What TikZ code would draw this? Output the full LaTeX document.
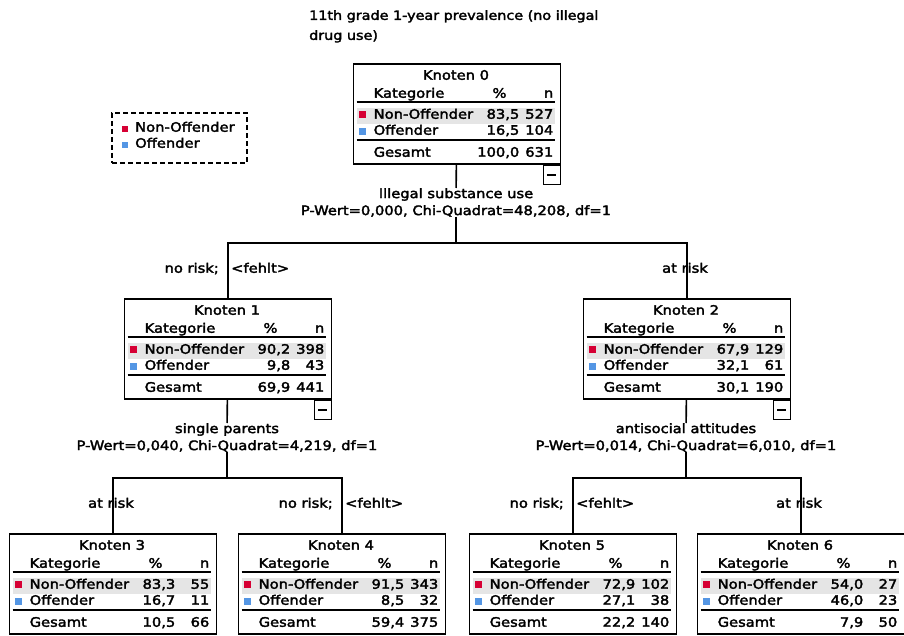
\documentclass[tikz,border=0pt]{standalone}
\usepackage{fontspec}
\setmainfont{DejaVu Sans}[FakeStretch=1.13, FakeBold=2.5]
\usetikzlibrary{positioning}

\definecolor{offred}{RGB}{214,0,52}
\definecolor{offblue}{RGB}{84,150,228}
\definecolor{rowgray}{RGB}{229,229,229}

\tikzset{
  kasten/.style={draw, line width=1.6pt, minimum width=207pt, minimum height=100pt, inner sep=0pt},
  minusbox/.style={draw, line width=1.6pt, minimum width=17pt, minimum height=19pt, inner sep=0pt},
  legende/.style={draw, dash pattern=on 5pt off 3pt, line width=1.6pt, minimum width=135pt, minimum height=50pt, inner sep=0pt},
  linie/.style={line width=1.6pt},
  split/.style={anchor=north, align=center, font=\fontsize{13}{17}\selectfont},
}

% 表格节点: #1 编号, #2 中心x, #3 上边y, #4-#9 数值
\newcommand{\knoten}[9]{%
  \begin{scope}[shift={(#2-103.5,#3)}]
    \fill[rowgray] (4,45) rectangle (202,61);
    \node[kasten, anchor=north west] (k#1) at (0,0) {};
    \node[anchor=mid] (k#1-titel) at (103.5,14) {Knoten #1};
    \node[anchor=mid west] (k#1-kat) at (21,32) {Kategorie};
    \node[anchor=mid] (k#1-proz) at (147,32) {\%};
    \node[anchor=mid east] (k#1-n) at (201,32) {n};
    \draw[linie] (4,39) -- (202,39);
    \fill[offred] (6,48) rectangle (13,55);
    \node[anchor=mid west] (k#1-a) at (21,53) {Non-Offender};
    \node[anchor=mid east] (k#1-ap) at (167,53) {#4};
    \node[anchor=mid east] (k#1-an) at (201,53) {#5};
    \fill[offblue] (6,65) rectangle (13,72);
    \node[anchor=mid west] (k#1-b) at (21,69) {Offender};
    \node[anchor=mid east] (k#1-bp) at (167,69) {#6};
    \node[anchor=mid east] (k#1-bn) at (201,69) {#7};
    \draw[linie] (4,77) -- (202,77);
    \node[anchor=mid west] (k#1-g) at (21,91) {Gesamt};
    \node[anchor=mid east] (k#1-gp) at (167,91) {#8};
    \node[anchor=mid east] (k#1-gn) at (201,91) {#9};
  \end{scope}}

\begin{document}
\begin{tikzpicture}[x=1pt, y=-1pt, every node/.append style={inner sep=0pt, font=\fontsize{13}{15}\selectfont}]
  \useasboundingbox (0,0) rectangle (904,636);

  % 标题
  \node[anchor=north west, align=left, font=\fontsize{12.7}{20}\selectfont] (titel) at (309,10) {11th grade 1-year prevalence (no illegal\\drug use)};

  % 图例
  \node[legende] (leg) at (179.5,138) {};
  \fill[offred] (122,126) rectangle (128,132);
  \node[anchor=mid west] (leg-a) at (135,129) {Non-Offender};
  \fill[offblue] (122,142) rectangle (128,148);
  \node[anchor=mid west] (leg-b) at (135,145) {Offender};

  % 节点
  \knoten{0}{456}{63}{83,5}{527}{16,5}{104}{100,0}{631}
  \knoten{1}{227}{298}{90,2}{398}{9,8}{43}{69,9}{441}
  \knoten{2}{686}{298}{67,9}{129}{32,1}{61}{30,1}{190}
  \knoten{3}{112}{533}{83,3}{55}{16,7}{11}{10,5}{66}
  \knoten{4}{341}{533}{91,5}{343}{8,5}{32}{59,4}{375}
  \knoten{5}{572}{533}{72,9}{102}{27,1}{38}{22,2}{140}
  \knoten{6}{800}{533}{54,0}{27}{46,0}{23}{7,9}{50}

  \node[minusbox, anchor=north east] (m0) at (k0.south east) {\rule{9pt}{1.6pt}};
  \node[minusbox, anchor=north east] (m1) at (k1.south east) {\rule{9pt}{1.6pt}};
  \node[minusbox, anchor=north east] (m2) at (k2.south east) {\rule{9pt}{1.6pt}};

  % 第一层分裂
  \node[split] (s0) at (456,188) {Illegal substance use\\P-Wert=0,000, Chi-Quadrat=48,208, df=1};
  \coordinate (b0) at (456,243);
  \draw[linie] (k0) -- (s0);
  \draw[linie] (s0.south) -- (b0);
  \draw[linie] (k1.north) |- (b0) -| (k2.north);
  \node[anchor=mid east] (r1a) at (219,270) {no risk;};
  \node[anchor=mid west] (r1b) at (231,270) {<fehlt>};
  \node[anchor=mid] (r2) at (685,270) {at risk};

  % 第二层分裂
  \node[split] (s1) at (227,423) {single parents\\P-Wert=0,040, Chi-Quadrat=4,219, df=1};
  \coordinate (b1) at (227,478);
  \draw[linie] (k1) -- (s1);
  \draw[linie] (s1.south) -- (b1);
  \draw[linie] (k3.north) |- (b1) -| (k4.north);
  \node[anchor=mid] (r3) at (111,505) {at risk};
  \node[anchor=mid east] (r4a) at (333,505) {no risk;};
  \node[anchor=mid west] (r4b) at (345,505) {<fehlt>};

  \node[split] (s2) at (686,423) {antisocial attitudes\\P-Wert=0,014, Chi-Quadrat=6,010, df=1};
  \coordinate (b2) at (686,478);
  \draw[linie] (k2) -- (s2);
  \draw[linie] (s2.south) -- (b2);
  \draw[linie] (k5.north) |- (b2) -| (k6.north);
  \node[anchor=mid east] (r5a) at (564,505) {no risk;};
  \node[anchor=mid west] (r5b) at (576,505) {<fehlt>};
  \node[anchor=mid] (r6) at (799,505) {at risk};
\end{tikzpicture}
\end{document}
